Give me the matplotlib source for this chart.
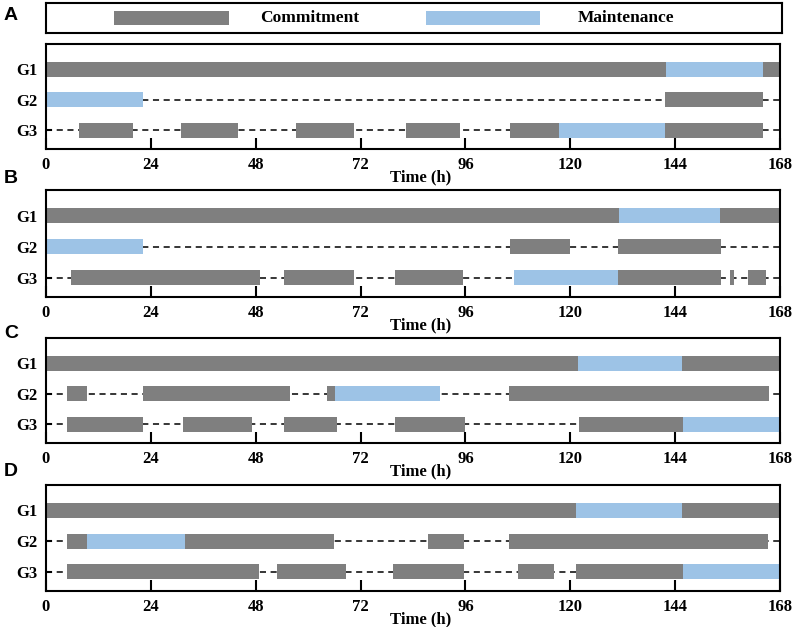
import matplotlib.pyplot as plt
from matplotlib.patches import Rectangle

plt.rcParams['font.family'] = ['Liberation Serif', 'DejaVu Serif']
plt.rcParams['font.weight'] = 'bold'
plt.rcParams['axes.labelweight'] = 'bold'

# Schedules: (start, end, state)  C = commitment, M = maintenance
gens = ['G1', 'G2', 'G3']
hour_ticks = [0, 24, 48, 72, 96, 120, 144, 168]

sched_A_g1 = [(0, 142, 'C'), (142, 164, 'M'), (164, 168, 'C')]
sched_A_g2 = [(0, 22.2, 'M'), (141.7, 164, 'C')]
sched_A_g3 = [(7.5, 20, 'C'), (31, 44, 'C'), (57.3, 70.5, 'C'), (82.5, 94.7, 'C'),
              (106.3, 117.4, 'C'), (117.4, 141.7, 'M'), (141.7, 164, 'C')]

sched_B_g1 = [(0, 131.2, 'C'), (131.2, 154.3, 'M'), (154.3, 168, 'C')]
sched_B_g2 = [(0, 22.1, 'M'), (106.1, 119.9, 'C'), (130.9, 154.5, 'C')]
sched_B_g3 = [(5.7, 48.9, 'C'), (54.5, 70.4, 'C'), (79.8, 95.5, 'C'), (107.1, 130.9, 'M'),
              (130.9, 154.5, 'C'), (156.6, 157.5, 'C'), (160.7, 164.9, 'C')]

sched_C_g1 = [(0, 121.8, 'C'), (121.8, 145.5, 'M'), (145.5, 168, 'C')]
sched_C_g2 = [(4.9, 9.3, 'C'), (22.2, 55.9, 'C'), (64.4, 66.1, 'C'), (66.1, 90.1, 'M'),
              (105.9, 165.5, 'C')]
sched_C_g3 = [(4.9, 22.3, 'C'), (31.3, 47.1, 'C'), (54.4, 66.6, 'C'), (79.8, 95.9, 'C'),
              (122, 145.9, 'C'), (145.9, 168, 'M')]

sched_D_g1 = [(0, 121.4, 'C'), (121.4, 145.5, 'M'), (145.5, 168, 'C')]
sched_D_g2 = [(4.9, 9.4, 'C'), (9.4, 31.9, 'M'), (31.9, 66, 'C'), (87.4, 95.7, 'C'),
              (106, 165.2, 'C')]
sched_D_g3 = [(4.9, 48.7, 'C'), (52.9, 68.7, 'C'), (79.4, 95.7, 'C'), (108.1, 116.3, 'C'),
              (121.3, 145.8, 'C'), (145.8, 168, 'M')]

panels = [
    ('A', [sched_A_g1, sched_A_g2, sched_A_g3]),
    ('B', [sched_B_g1, sched_B_g2, sched_B_g3]),
    ('C', [sched_C_g1, sched_C_g2, sched_C_g3]),
    ('D', [sched_D_g1, sched_D_g2, sched_D_g3]),
]

colores = {'C': '#7f7f7f', 'M': '#9dc3e6'}
W, H = 796, 627

fig = plt.figure(figsize=(W / 100, H / 100), dpi=100)

# caja de leyenda arriba
axl = fig.add_axes([46 / W, 1 - 32.5 / H, 736 / W, 29.5 / H])
axl.set_xlim(46, 782)
axl.set_ylim(32.5, 3)
axl.set_xticks([])
axl.set_yticks([])
for s in axl.spines.values():
    s.set_linewidth(1.5)
axl.add_patch(Rectangle((114, 11), 114.5, 14, color=colores['C'], lw=0))
axl.text(260, 18.5, 'Commitment', fontsize=12.5, va='center', ha='left')
axl.add_patch(Rectangle((426, 11), 114, 14, color=colores['M'], lw=0))
axl.text(578, 18.5, 'Maintenance', fontsize=12.5, va='center', ha='left')

# posiciones (top, bottom) de cada panel en pixeles
cajas = [(44, 149), (190, 297), (338, 443), (485, 591)]
letras_y = [15, 178, 333, 472]

for (letra, filas), (top, bot), ly in zip(panels, cajas, letras_y):
    ax = fig.add_axes([46 / W, 1 - bot / H, 734 / W, (bot - top) / H])
    ys = [3, 2, 1]
    for y, fila in zip(ys, filas):
        ax.hlines(y, 0, 168, colors='black', linestyles=(0, (4, 3)), lw=1.1, zorder=1)
        for estado in ['C', 'M']:
            tramos = [(a, b - a) for a, b, e in fila if e == estado]
            if tramos:
                ax.broken_barh(tramos, (y - 0.245, 0.49), facecolors=colores[estado], zorder=2)
    ax.set_xlim(0, 168)
    ax.set_ylim(0.38, 3.82)
    ax.set_xticks(hour_ticks)
    ax.set_yticks(ys)
    ax.set_yticklabels(gens)
    ax.tick_params(axis='x', direction='in', length=8, width=1.5, labelsize=12, pad=6)
    ax.tick_params(axis='y', direction='in', length=4, width=1.5, labelsize=12, pad=6)
    for s in ax.spines.values():
        s.set_linewidth(1.5)
    ax.set_xlabel('Time (h)', fontsize=12, fontweight='bold', labelpad=-3, x=0.51)
    fig.text(11 / W, 1 - ly / H, letra, fontsize=14, fontweight='bold',
             family='Liberation Sans', ha='center', va='center')

fig.savefig('out.png', dpi=100)
